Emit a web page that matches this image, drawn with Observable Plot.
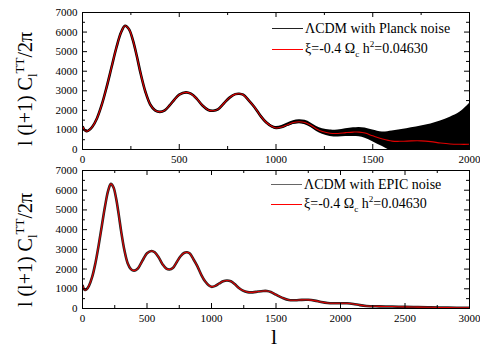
<!DOCTYPE html>
<html><head><meta charset="utf-8">
<script src="https://cdn.jsdelivr.net/npm/d3@7"></script>
<script src="https://cdn.jsdelivr.net/npm/@observablehq/plot@0.6"></script>
<style>
html,body{margin:0;padding:0;background:#fff;}
#wrap{position:relative;width:480px;height:350px;overflow:hidden;font-family:"Liberation Serif","Times New Roman",serif;color:#000;}
#wrap svg{position:absolute;left:0;overflow:visible;}
.lab{position:absolute;white-space:nowrap;line-height:1;}
.ylab{font-size:20px;transform:translate(-50%,-50%) rotate(-90deg);}
.leg{position:absolute;font-size:14px;white-space:nowrap;line-height:1;}
.leg .ln{position:absolute;left:0;width:31px;top:0;}
.leg .tx{position:absolute;left:33px;top:-7px;}
sub,sup{font-size:65%;line-height:0;}
</style>
</head><body>
<div id="wrap"></div>
<script>
// multipole l and l(l+1)C_l/2π (μK²)
const ell = [2,10,20,30,50,75,100,125,150,175,200,220,240,260,280,300,325,350,375,400,425,450,475,500,535,560,590,620,650,675,700,730,760,790,810,830,860,890,920,950,980,1000,1030,1060,1090,1120,1150,1180,1210,1240,1280,1320,1360,1400,1430,1460,1500,1550,1600,1650,1700,1750,1800,1850,1900,1950,2000,2050,2100,2150,2200,2300,2400,2500,2600,2700,2800,2900,3000];
const dlTT = [1150,1000,940,960,1150,1600,2300,3200,4200,5200,6000,6320,6150,5600,4800,3900,2950,2300,2000,1920,2000,2250,2550,2800,2920,2850,2600,2250,2020,1980,2050,2350,2650,2830,2850,2800,2500,2150,1720,1380,1170,1100,1150,1270,1380,1420,1380,1240,1050,920,830,820,860,890,890,840,700,540,430,420,440,440,400,330,280,265,265,265,230,170,130,110,100,80,70,60,50,40,35];
// Planck noise band (upper / lower edge)
const bandEll = [920,950,980,1000,1030,1060,1090,1120,1150,1180,1210,1240,1280,1320,1360,1400,1430,1460,1500,1550,1600,1650,1700,1750,1800,1850,1900,1950,2000];
const bandHi = [1790,1450,1230,1170,1220,1350,1470,1520,1490,1360,1180,1060,990,1000,1060,1110,1130,1100,1000,900,950,1020,1110,1200,1300,1450,1650,1900,2350];
const bandLo = [1650,1310,1110,1030,1080,1190,1290,1320,1270,1120,920,780,670,640,660,670,650,580,400,150,-90,-180,-250,-360,-560,-850,-1100,-1400,-1800];
// tick values
const yMajor = [0,1000,2000,3000,4000,5000,6000,7000];
const yMinor = [500,1500,2500,3500,4500,5500,6500];
const xMajorTop = [0,500,1000,1500,2000];
const xMinorTop = [250,750,1250,1750];
const xMajorBot = [0,500,1000,1500,2000,2500,3000];
const xMinorBot = [250,750,1250,1750,2250,2750];
const legendTop = ["ΛCDM with Planck noise", "ξ=-0.4 Ω<sub>c</sub> h<sup>2</sup>=0.04630"];
const legendBot = ["ΛCDM with EPIC noise", "ξ=-0.4 Ω<sub>c</sub> h<sup>2</sup>=0.04630"];

const spec = ell.map((l,i)=>({l, v: dlTT[i]}));
const band = bandEll.map((l,i)=>({l, hi: bandHi[i], lo: bandLo[i]}));
const fmt = d => String(d);

function ticks(xMaj, xMin, pw, ph){
  const M=5, m=3;
  return [
    Plot.tickX(xMaj,{x:d=>d, stroke:"black", insetTop:ph-M}),
    Plot.tickX(xMin,{x:d=>d, stroke:"black", insetTop:ph-m}),
    Plot.tickX(xMaj,{x:d=>d, stroke:"black", insetBottom:ph-M}),
    Plot.tickX(xMin,{x:d=>d, stroke:"black", insetBottom:ph-m}),
    Plot.tickY(yMajor,{y:d=>d, stroke:"black", insetRight:pw-M}),
    Plot.tickY(yMinor,{y:d=>d, stroke:"black", insetRight:pw-m}),
    Plot.tickY(yMajor,{y:d=>d, stroke:"black", insetLeft:pw-M}),
    Plot.tickY(yMinor,{y:d=>d, stroke:"black", insetLeft:pw-m}),
  ];
}
const style = {fontFamily:'"Liberation Serif","Times New Roman",serif', fontSize:"11px", color:"black", background:"none", overflow:"visible"};
const W=480, ML=82, MR=11;
const pw = W-ML-MR;

// top panel
const topH=175, topMT=12, topMB=26, topPH=topH-topMT-topMB;
const specTop = spec.filter(d=>d.l<=2000);
const p1 = Plot.plot({
  width:W, height:topH, marginLeft:ML, marginRight:MR, marginTop:topMT, marginBottom:topMB,
  style,
  x:{domain:[0,2000]}, y:{domain:[0,7000]},
  marks:[
    Plot.areaY(band,{x:"l", y1:"lo", y2:"hi", fill:"black", curve:"catmull-rom", clip:true}),
    Plot.line(specTop,{x:"l", y:"v", stroke:"black", strokeWidth:2.6, curve:"catmull-rom", clip:true}),
    Plot.line(specTop,{x:"l", y:"v", stroke:"#e00000", strokeWidth:1.1, curve:"catmull-rom", clip:true}),
    Plot.frame({stroke:"black"}),
    ...ticks(xMajorTop,xMinorTop,pw,topPH),
    Plot.axisX(xMajorTop,{tickSize:0, tickPadding:6, label:null, tickFormat:fmt}),
    Plot.axisY(yMajor,{tickSize:0, tickPadding:5, label:null, tickFormat:fmt}),
  ]
});
p1.style.top="0px";

// bottom panel
const botTop=160, botH=168, botMT=10, botMB=20, botPH=botH-botMT-botMB;
const p2 = Plot.plot({
  width:W, height:botH, marginLeft:ML, marginRight:MR, marginTop:botMT, marginBottom:botMB,
  style,
  x:{domain:[0,3000]}, y:{domain:[0,7000]},
  marks:[
    Plot.line(spec,{x:"l", y:"v", stroke:"#222", strokeWidth:2.6, curve:"catmull-rom", clip:true}),
    Plot.line(spec,{x:"l", y:"v", stroke:"#e00000", strokeWidth:1.1, curve:"catmull-rom", clip:true}),
    Plot.frame({stroke:"black"}),
    ...ticks(xMajorBot,xMinorBot,pw,botPH),
    Plot.axisX(xMajorBot,{tickSize:0, tickPadding:6, label:null, tickFormat:fmt}),
    Plot.axisY(yMajor,{tickSize:0, tickPadding:5, label:null, tickFormat:fmt}),
  ]
});
p2.style.top=botTop+"px";

const wrap=document.getElementById("wrap");
wrap.appendChild(p1);
wrap.appendChild(p2);

function addDiv(cls, html, css){
  const d=document.createElement("div");
  d.className=cls; d.innerHTML=html; Object.assign(d.style,css); wrap.appendChild(d); return d;
}
const yl = "l (l+1) C<sub>l</sub><sup>TT</sup>/2π";
addDiv("lab ylab", yl, {left:"25px", top:"89px"});
addDiv("lab ylab", yl, {left:"25px", top:"250px"});
addDiv("lab", "l", {left:"271px", top:"326px", fontSize:"22px"});

function legend(items, x, ys, colors, widths){
  items.forEach((t,i)=>{
    const d=addDiv("leg","",{left:x+"px", top:ys[i]+"px"});
    const ln=document.createElement("div"); ln.className="ln";
    ln.style.borderTop=widths[i]+"px solid "+colors[i];
    ln.style.top=(-widths[i]/2)+"px";
    d.appendChild(ln);
    const tx=document.createElement("div"); tx.className="tx"; tx.innerHTML=t; d.appendChild(tx);
  });
}
legend(legendTop, 272, [29,49], ["#222","#ff0000"], [1.5,1]);
legend(legendBot, 271, [185,204], ["#666","#ff0000"], [1.5,1]);
</script>
</body></html>
